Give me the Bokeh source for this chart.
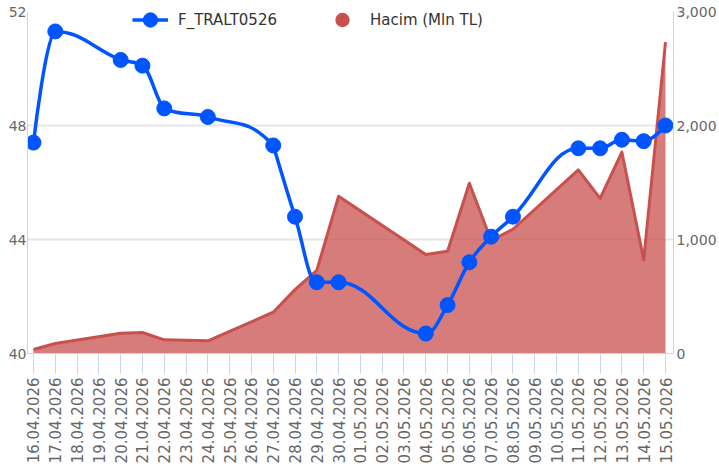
import math
from bokeh.plotting import figure
from bokeh.models import (Range1d, LinearAxis, FixedTicker, NumeralTickFormatter,
                          Legend, LegendItem, ColumnDataSource)
from bokeh.embed import file_html
from bokeh.resources import INLINE

dates = ["16.04.2026", "17.04.2026", "18.04.2026", "19.04.2026", "20.04.2026",
         "21.04.2026", "22.04.2026", "23.04.2026", "24.04.2026", "25.04.2026",
         "26.04.2026", "27.04.2026", "28.04.2026", "29.04.2026", "30.04.2026",
         "01.05.2026", "02.05.2026", "03.05.2026", "04.05.2026", "05.05.2026",
         "06.05.2026", "07.05.2026", "08.05.2026", "09.05.2026", "10.05.2026",
         "11.05.2026", "12.05.2026", "13.05.2026", "14.05.2026", "15.05.2026"]
price = [47.4, 51.3, None, None, 50.3, 50.1, 48.6, None, 48.3, None,
         None, 47.3, 44.8, 42.5, 42.5, None, None, None, 40.7, 41.7,
         43.2, 44.1, 44.8, None, None, 47.2, 47.2, 47.5, 47.45, 48.0]
volume = [35, 88, None, None, 178, 184, 120, None, 111, None,
          None, 362, 560, 730, 1380, None, None, None, 868, 897,
          1494, 991, 1090, None, None, 1610, 1360, 1766, 822, 2731]
price_ticks = [40, 44, 48, 52]
volume_ticks = [0, 1000, 2000, 3000]

BLUE = "#0055ff"
RED = "#c8504f"
AXIS = "#ccd6eb"
GRID = "#e6e6e6"
LABEL = "#666666"
FONT = "DejaVu Sans"

px = [i for i, v in enumerate(price) if v is not None]
py = [price[i] for i in px]
vx = [i for i, v in enumerate(volume) if v is not None]
vy = [volume[i] for i in vx]


def spline_segments(xs, ys, smoothing=1.5):
    denom = smoothing + 1
    n = len(xs)
    right = [None] * n
    segs = {k: [] for k in ("x0", "y0", "x1", "y1", "cx0", "cy0", "cx1", "cy1")}
    for i in range(1, n):
        x, y = xs[i], ys[i]
        lx, ly = xs[i - 1], ys[i - 1]
        lcx, lcy = x, y
        if i + 1 < n:
            nx, ny = xs[i + 1], ys[i + 1]
            lcx = (smoothing * x + lx) / denom
            lcy = (smoothing * y + ly) / denom
            rcx = (smoothing * x + nx) / denom
            rcy = (smoothing * y + ny) / denom
            corr = 0
            if rcx != lcx:
                corr = ((rcy - lcy) * (rcx - x)) / (rcx - lcx) + y - rcy
            lcy += corr
            rcy += corr
            if lcy > ly and lcy > y:
                lcy = max(ly, y)
                rcy = 2 * y - lcy
            elif lcy < ly and lcy < y:
                lcy = min(ly, y)
                rcy = 2 * y - lcy
            if rcy > ny and rcy > y:
                rcy = max(ny, y)
                lcy = 2 * y - rcy
            elif rcy < ny and rcy < y:
                rcy = min(ny, y)
                lcy = 2 * y - rcy
            right[i] = (rcx, rcy)
        prev = right[i - 1] if right[i - 1] is not None else (lx, ly)
        segs["x0"].append(lx); segs["y0"].append(ly)
        segs["x1"].append(x); segs["y1"].append(y)
        segs["cx0"].append(prev[0]); segs["cy0"].append(prev[1])
        segs["cx1"].append(lcx); segs["cy1"].append(lcy)
    return segs


p = figure(width=719, height=470, output_backend="svg", toolbar_location=None,
           x_range=Range1d(-0.275, 29.367), y_range=Range1d(40, 52),
           min_border_left=27, min_border_right=46, min_border_top=11,
           min_border_bottom=117)
p.outline_line_color = None
p.background_fill_color = "white"
p.border_fill_color = "white"
p.extra_y_ranges = {"vol": Range1d(0, 3000)}

# axes
xa = p.xaxis[0]
xa.ticker = FixedTicker(ticks=list(range(len(dates))))
xa.major_label_overrides = {i: d for i, d in enumerate(dates)}
xa.major_label_orientation = math.pi / 2
xa.axis_line_color = AXIS
xa.axis_line_width = 1
xa.major_tick_line_color = AXIS
xa.major_tick_line_width = 1
xa.major_tick_out = 20
xa.major_tick_in = 0
xa.minor_tick_line_color = None
xa.major_label_text_color = LABEL
xa.major_label_text_font = FONT
xa.major_label_text_font_size = "15px"
xa.major_label_standoff = 4

ya = p.yaxis[0]
ya.ticker = FixedTicker(ticks=price_ticks)
ya.axis_line_color = AXIS
ya.major_tick_line_color = None
ya.major_tick_out = 0
ya.major_tick_in = 0
ya.minor_tick_line_color = None
ya.major_label_text_color = LABEL
ya.major_label_text_font = FONT
ya.major_label_text_font_size = "14px"
ya.major_label_standoff = 1

ra = LinearAxis(y_range_name="vol", ticker=FixedTicker(ticks=volume_ticks),
                formatter=NumeralTickFormatter(format="0,0"))
ra.axis_line_color = AXIS
ra.major_tick_line_color = None
ra.major_tick_out = 0
ra.major_tick_in = 0
ra.minor_tick_line_color = None
ra.major_label_text_color = LABEL
ra.major_label_text_font = FONT
ra.major_label_text_font_size = "14px"
ra.major_label_standoff = 3
p.add_layout(ra, "right")

p.xgrid.grid_line_color = None
p.ygrid.ticker = FixedTicker(ticks=price_ticks)
p.ygrid.grid_line_color = GRID
p.ygrid.grid_line_width = 2

# volume area
vsrc = ColumnDataSource(dict(x=vx, y=vy, z=[0] * len(vx)))
p.varea(x="x", y1="z", y2="y", source=vsrc, y_range_name="vol",
        fill_color=RED, fill_alpha=0.75)
p.line(x="x", y="y", source=vsrc, y_range_name="vol",
       line_color=RED, line_width=3, line_join="round")
# marker renderer with zero size: only used for the legend symbol
leg_red = p.scatter(x="x", y="y", source=vsrc, y_range_name="vol", size=0,
                    fill_color=RED, line_color=None)

# price spline
segs = spline_segments(px, py)
curve = p.bezier(source=ColumnDataSource(segs), x0="x0", y0="y0", x1="x1", y1="y1",
                 cx0="cx0", cy0="cy0", cx1="cx1", cy1="cy1",
                 line_color=BLUE, line_width=3.5)
dots = p.scatter(x=px, y=py, size=15, fill_color=BLUE, line_color=BLUE)

legend = Legend(items=[LegendItem(label="F_TRALT0526", renderers=[curve, dots]),
                       LegendItem(label="Hacim (Mln TL)", renderers=[leg_red])],
                orientation="horizontal", location=(105, 315))
legend.background_fill_alpha = 0
legend.border_line_color = None
legend.padding = 0
legend.margin = 0
legend.spacing = 47
legend.glyph_width = 36
legend.glyph_height = 37
legend.label_standoff = 10
legend.label_text_font = FONT
legend.label_text_font_size = "15px"
legend.label_text_color = "#333333"
p.add_layout(legend)

open("out.html", "w").write(file_html(p, INLINE))
